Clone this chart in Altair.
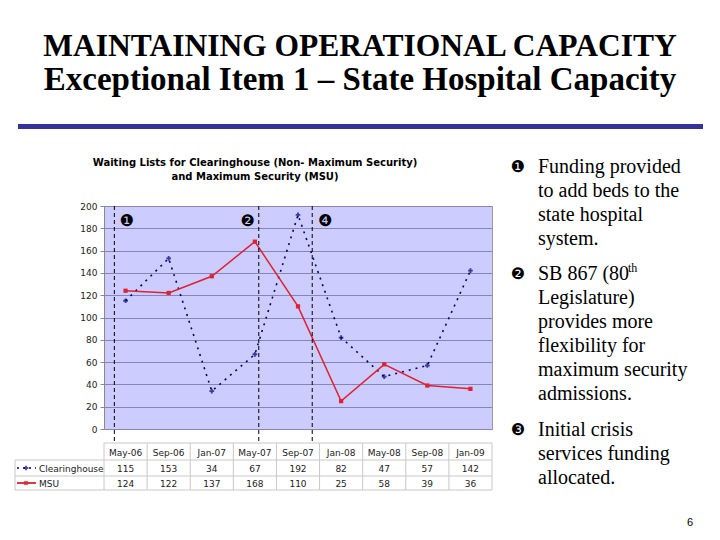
import altair as alt
import pandas as pd

# ---------------- data ----------------
months = ["May-06", "Sep-06", "Jan-07", "May-07", "Sep-07", "Jan-08", "May-08", "Sep-08", "Jan-09"]
clearinghouse = [115, 153, 34, 67, 192, 82, 47, 57, 142]
msu = [124, 122, 137, 168, 110, 25, 58, 39, 36]
event_pos = [0.24, 3.59, 4.83]          # dashed event lines (in category units)
event_label_pos = [0.53, 3.33, 5.13]    # circled-number labels
event_labels = ["\u2776", "\u2777", "\u2779"]
y_ticks = list(range(0, 201, 20))

notes = [
    ("\u2776", ["Funding provided", "to add beds to the", "state hospital", "system."]),
    ("\u2777", ["SB 867 (80", "Legislature)", "provides more", "flexibility for",
                "maximum security", "admissions."]),
    ("\u2778", ["Initial crisis", "services funding", "allocated."]),
]

# ---------------- frames ----------------
n = len(months)
df = pd.DataFrame({
    "pos": [i + 0.5 for i in range(n)],
    "month": months,
    "Clearinghouse": clearinghouse,
    "MSU": msu,
})
ev = pd.DataFrame({"pos": event_pos})
evl = pd.DataFrame({"pos": event_label_pos, "lab": event_labels})
edges = pd.DataFrame({"pos": list(range(n + 1))})
one = pd.DataFrame({"a": [0]})

# plot origin in page px: (104, 206); plot size 388 x 223
OX, OY = 104, 206
W, H = 388, 223


def px(x):
    return x - OX


def py(y):
    return y - OY


xs = alt.Scale(domain=[0, n], nice=False, zero=False)
ys = alt.Scale(domain=[0, 200], nice=False, zero=False)
X = alt.X("pos:Q", scale=xs, axis=None)

NAVY = "#000070"
RED = "#DD2233"
FONT = "DejaVu Sans"
SERIF = "Liberation Serif"

base = alt.Chart(df)

y_axis = alt.Axis(values=y_ticks, title=None, labelFont=FONT, labelFontSize=9,
                  labelColor="#222222", gridColor="#8686B6", gridWidth=1,
                  domainColor="#8a8a8a", tickColor="#8a8a8a", tickSize=4,
                  labelPadding=3, labelOverlap=False)


def Y(field):
    return alt.Y(field, scale=ys, axis=y_axis)


clear_line = base.mark_line(color=NAVY, strokeDash=[2, 5], strokeWidth=1.6).encode(
    x=X, y=Y("Clearinghouse:Q"))
clear_pts = base.mark_point(shape="cross", color=NAVY, filled=True, size=22).encode(
    x=X, y=Y("Clearinghouse:Q"))
msu_line = base.mark_line(color=RED, strokeWidth=1.5).encode(
    x=X, y=Y("MSU:Q"))
msu_pts = base.mark_point(shape="square", color=RED, filled=True, size=18, opacity=1).encode(
    x=X, y=Y("MSU:Q"))

ev_rules = alt.Chart(ev).mark_rule(color="black", strokeDash=[4, 3], strokeWidth=1).encode(
    x=X, y=alt.value(0), y2=alt.value(py(443)))
ev_text = alt.Chart(evl).mark_text(font=FONT, fontSize=16, color="black",
                                   baseline="middle", align="center").encode(
    x=X, y=alt.value(py(221)), text="lab:N")

# ---- data table under the plot ----
grid = "#C8C8C8"
tbl_v = alt.Chart(edges).mark_rule(color=grid, strokeWidth=1).encode(
    x=X, y=alt.value(py(443)), y2=alt.value(py(490)))
layers_tbl = [tbl_v]
for yy, x0 in [(443, 104), (460, 15), (476, 15), (490, 15)]:
    layers_tbl.append(alt.Chart(one).mark_rule(color=grid, strokeWidth=1).encode(
        x=alt.value(px(x0)), x2=alt.value(px(492)), y=alt.value(py(yy))))
layers_tbl.append(alt.Chart(one).mark_rule(color=grid, strokeWidth=1).encode(
    x=alt.value(px(15)), y=alt.value(py(460)), y2=alt.value(py(490))))

tbl_txt = dict(font=FONT, fontSize=9, color="#222222", align="center", baseline="alphabetic")
hdr = base.mark_text(**tbl_txt).encode(x=X, y=alt.value(py(456)), text="month:N")
row1 = base.mark_text(**tbl_txt).encode(x=X, y=alt.value(py(472)), text="Clearinghouse:Q")
row2 = base.mark_text(**tbl_txt).encode(x=X, y=alt.value(py(487)), text="MSU:Q")

lab_txt = dict(font=FONT, fontSize=9, color="#222222", align="left", baseline="alphabetic")
lab1 = alt.Chart(one).mark_text(text="Clearinghouse", **lab_txt).encode(
    x=alt.value(px(39)), y=alt.value(py(472)))
lab2 = alt.Chart(one).mark_text(text="MSU", **lab_txt).encode(
    x=alt.value(px(39)), y=alt.value(py(487)))
key1 = alt.Chart(one).mark_rule(color=NAVY, strokeDash=[2, 4], strokeWidth=1.5).encode(
    x=alt.value(px(17)), x2=alt.value(px(36)), y=alt.value(py(468)))
key1p = alt.Chart(one).mark_point(shape="cross", color=NAVY, filled=True, size=22).encode(
    x=alt.value(px(26)), y=alt.value(py(468)))
key2 = alt.Chart(one).mark_rule(color=RED, strokeWidth=1.8).encode(
    x=alt.value(px(17)), x2=alt.value(px(36)), y=alt.value(py(483)))
key2p = alt.Chart(one).mark_point(shape="square", color=RED, filled=True, size=18).encode(
    x=alt.value(px(26)), y=alt.value(py(483)))

# ---- chart title ----
ct = alt.Chart(one).mark_text(
    text=["Waiting Lists for Clearinghouse (Non- Maximum Security)",
          "and Maximum Security  (MSU)"],
    font=FONT, fontSize=10, fontWeight="bold", color="black", align="center",
    baseline="alphabetic", lineHeight=13.5).encode(
    x=alt.value(px(255)), y=alt.value(py(166)))

# ---- page title ----
t1 = alt.Chart(one).mark_text(text="MAINTAINING OPERATIONAL CAPACITY", font=SERIF,
                              fontSize=31.5, fontWeight="bold", color="black",
                              align="center", baseline="alphabetic").encode(
    x=alt.value(px(360)), y=alt.value(py(56)))
t2 = alt.Chart(one).mark_text(text="Exceptional Item 1 \u2013 State Hospital Capacity", font=SERIF,
                              fontSize=33, fontWeight="bold", color="black",
                              align="center", baseline="alphabetic").encode(
    x=alt.value(px(360)), y=alt.value(py(90)))
bar = alt.Chart(one).mark_rule(color="#333399", strokeWidth=5).encode(
    x=alt.value(px(18)), x2=alt.value(px(703)), y=alt.value(py(126.5)))
pnum = alt.Chart(one).mark_text(text="6", font="Liberation Sans", fontSize=11, color="black",
                                align="center", baseline="alphabetic").encode(
    x=alt.value(px(690)), y=alt.value(py(526)))

# ---- right-hand notes ----
note_layers = []
starts = [173, 280, 436]
for (bul, lines), y0 in zip(notes, starts):
    note_layers.append(alt.Chart(one).mark_text(text=bul, font=FONT, fontSize=16, color="black",
                                                align="center", baseline="middle").encode(
        x=alt.value(px(518)), y=alt.value(py(y0 - 6))))
    note_layers.append(alt.Chart(one).mark_text(text=lines, font=SERIF, fontSize=20, color="black",
                                                align="left", baseline="alphabetic",
                                                lineHeight=24).encode(
        x=alt.value(px(538)), y=alt.value(py(y0))))
sup = alt.Chart(one).mark_text(text="th", font=SERIF, fontSize=12, color="black",
                               align="left", baseline="alphabetic").encode(
    x=alt.value(px(628)), y=alt.value(py(272)))

chart = alt.layer(
    clear_line, msu_line, clear_pts, msu_pts, ev_rules, ev_text,
    *layers_tbl, hdr, row1, row2, lab1, lab2, key1, key1p, key2, key2p,
    ct, t1, t2, bar, pnum, *note_layers, sup,
).properties(
    width=W, height=H,
    padding={"left": OX - 8, "top": OY - 8, "right": 720 - 16 - (OX - 8) - W,
             "bottom": 540 - 16 - (OY - 8) - H},
    autosize="none",
    background="white",
).configure_view(
    fill="#CCCCFF", stroke="#9a9a9a", strokeWidth=1,
)

chart.save("out.html", embed_options={"renderer": "svg", "actions": False})
